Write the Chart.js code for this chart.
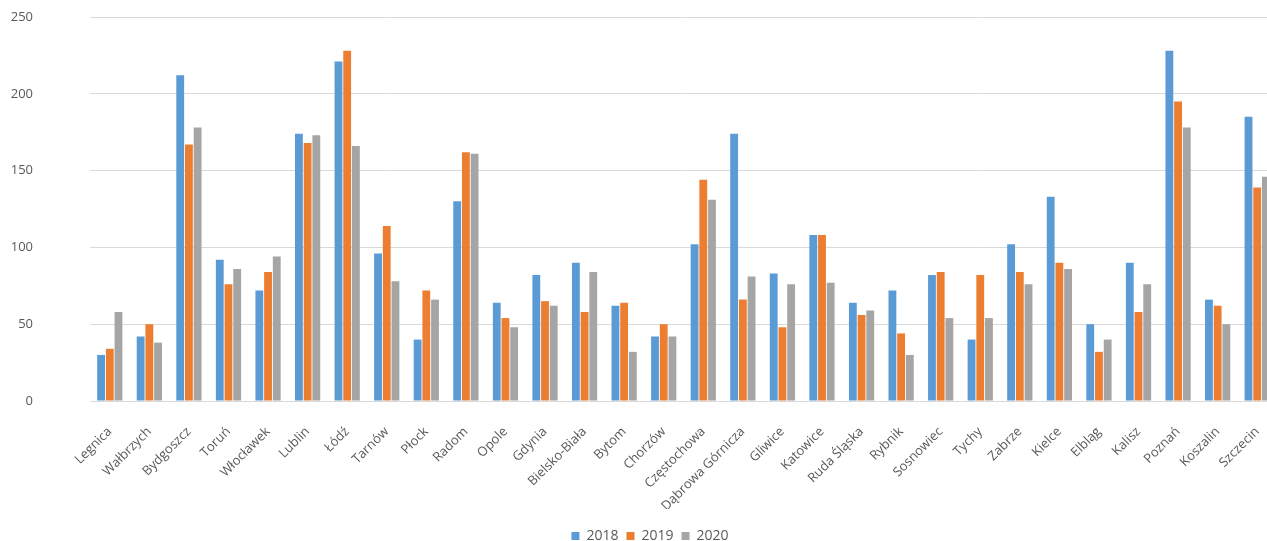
<!DOCTYPE html>
<html lang="pl">
<head>
    <meta charset="UTF-8">
    <title>Miasta 2018–2020</title>
    <script src="https://cdn.jsdelivr.net/npm/chart.js"></script>
    <style>
        html, body { margin: 0; padding: 0; background: #fff; overflow: hidden; }
        #wrap { width: 1267px; height: 541px; overflow: hidden; }
        canvas { display: block; }
    </style>
</head>
<body>
    <div id="wrap">
        <canvas id="cityChart" width="1277" height="541"></canvas>
    </div>

    <script>
        const cities = ['Legnica', 'Wałbrzych', 'Bydgoszcz', 'Toruń', 'Włocławek', 'Lublin', 'Łódź', 'Tarnów',
            'Płock', 'Radom', 'Opole', 'Gdynia', 'Bielsko-Biała', 'Bytom', 'Chorzów', 'Częstochowa',
            'Dąbrowa Górnicza', 'Gliwice', 'Katowice', 'Ruda Śląska', 'Rybnik', 'Sosnowiec', 'Tychy',
            'Zabrze', 'Kielce', 'Elbląg', 'Kalisz', 'Poznań', 'Koszalin', 'Szczecin'];

        const years = ['2018', '2019', '2020'];

        const values2018 = [30, 42, 212, 92, 72, 174, 221, 96, 40, 130, 64, 82, 90, 62, 42, 102,
            174, 83, 108, 64, 72, 82, 40, 102, 133, 50, 90, 228, 66, 185];
        const values2019 = [34, 50, 167, 76, 84, 168, 228, 114, 72, 162, 54, 65, 58, 64, 50, 144,
            66, 48, 108, 56, 44, 84, 82, 84, 90, 32, 58, 195, 62, 139];
        const values2020 = [58, 38, 178, 86, 94, 173, 166, 78, 66, 161, 48, 62, 84, 32, 42, 131,
            81, 76, 77, 59, 30, 54, 54, 76, 86, 40, 76, 178, 50, 146];

        const yTicks = [0, 50, 100, 150, 200, 250];

        const colors = ['#5B9BD5', '#ED7D31', '#A5A5A5'];
        const textColor = '#595959';
        const gridColor = '#d9d9d9';

        // legend sits a bit right of the canvas centre and close to the bottom edge
        const LEGEND_CENTER_X = 650;
        const LEGEND_SHIFT_Y = 12;

        const legendShift = {
            id: 'legendShift',
            afterLayout(chart) {
                const lg = chart.legend;
                const dx = LEGEND_CENTER_X - (lg.left + lg.right) / 2;
                lg.left += dx;
                lg.right += dx;
                lg.top += LEGEND_SHIFT_Y;
                lg.bottom += LEGEND_SHIFT_Y;
            }
        };

        const ctx = document.getElementById('cityChart').getContext('2d');
        new Chart(ctx, {
            type: 'bar',
            data: {
                labels: cities,
                datasets: [values2018, values2019, values2020].map((vals, i) => ({
                    label: years[i],
                    data: vals,
                    backgroundColor: colors[i],
                    borderWidth: 0,
                    categoryPercentage: 0.66,
                    barPercentage: 0.9
                }))
            },
            plugins: [legendShift],
            options: {
                responsive: false,
                animation: false,
                layout: { padding: { top: 17, left: 0, right: 0, bottom: 0 } },
                plugins: {
                    tooltip: { enabled: false },
                    legend: {
                        position: 'bottom',
                        labels: {
                            boxWidth: 8,
                            boxHeight: 8,
                            padding: 8,
                            color: textColor,
                            font: { family: 'Open Sans', size: 14 }
                        }
                    }
                },
                scales: {
                    x: {
                        grid: { display: false },
                        border: { color: gridColor },
                        ticks: {
                            autoSkip: false,
                            maxRotation: 45,
                            minRotation: 45,
                            padding: 15,
                            color: textColor,
                            font: { family: 'Open Sans', size: 13 }
                        },
                        afterFit(scale) {
                            // plot runs right to the canvas edge, last group is cut off
                            scale.height = 108;
                            scale.paddingLeft = 0;
                            scale.paddingRight = 0;
                        }
                    },
                    y: {
                        min: 0,
                        max: 250,
                        afterBuildTicks(scale) { scale.ticks = yTicks.map(v => ({ value: v })); },
                        grid: { color: gridColor, drawTicks: false },
                        border: { display: false },
                        ticks: {
                            padding: 57,
                            color: textColor,
                            font: { family: 'Open Sans', size: 13 }
                        },
                        afterFit(scale) {
                            // wide gap between labels and plot, without the extra vertical padding
                            scale.width = 90;
                            scale.paddingTop = 8;
                            scale.paddingBottom = 8;
                        }
                    }
                }
            }
        });
    </script>
</body>
</html>
